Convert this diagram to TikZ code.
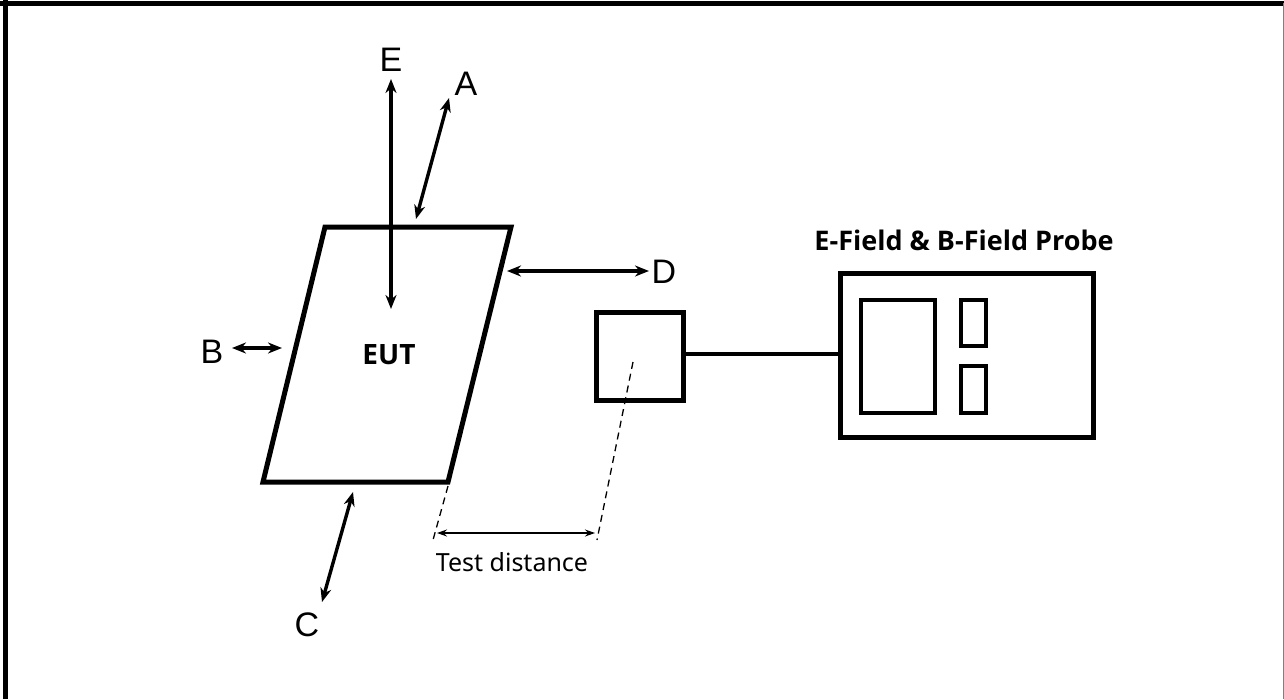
\documentclass[tikz,border=0pt]{standalone}
\usepackage{fontspec}
\setmainfont{Liberation Sans}
\newfontfamily\labelfont{Noto Sans}
\newfontfamily\headfont{Open Sans}
\usetikzlibrary{arrows.meta}
\tikzset{
  thick line/.style={line width=5pt},
  dir arrow/.style={line width=3.4pt, {Stealth[length=14pt,width=11pt]}-{Stealth[length=14pt,width=11pt]}},
  dist arrow/.style={line width=1.4pt, {Stealth[length=10pt,width=7pt]}-{Stealth[length=10pt,width=7pt]}},
  guide/.style={line width=1.3pt, dash pattern=on 7pt off 5pt},
  letter/.style={font=\fontsize{34}{36}\selectfont, inner sep=0pt}
}
\begin{document}
\begin{tikzpicture}[x=1pt,y=-1pt]
		\useasboundingbox (0,0) rectangle (1284,699);
		% frame
		\draw[line width=5pt] (5,0) -- (5,699);
		\draw[line width=5pt] (0,3) -- (1284,3);
		\draw[line width=1pt, gray] (1283,3) -- (1283,699);
		% EUT
		\coordinate (tl) at (325,227);
		\coordinate (tr) at (511,227);
		\coordinate (br) at (448,482);
		\coordinate (bl) at (263,482);
		\draw[thick line, line join=miter] (tl) -- (tr) -- (br) -- (bl) -- cycle;
		\node[font=\headfont\bfseries\fontsize{28}{30}\selectfont] (eut) at (389,355) {EUT};
		% directions
		\coordinate (e1) at (391,309);
		\coordinate (e2) at (391,79);
		\draw[dir arrow] (e1) -- (e2);
		\node[letter] (lblE) at (391,60) {E};
		\coordinate (a1) at (416,219);
		\coordinate (a2) at (449,98);
		\draw[dir arrow] (a1) -- (a2);
		\node[letter] (lblA) at (466,84) {A};
		\coordinate (b1) at (232,348);
		\coordinate (b2) at (282,348);
		\draw[dir arrow] (b1) -- (b2);
		\node[letter] (lblB) at (212,352) {B};
		\coordinate (c1) at (353,492);
		\coordinate (c2) at (322,602);
		\draw[dir arrow] (c1) -- (c2);
		\node[letter] (lblC) at (307,625) {C};
		\coordinate (d1) at (507,271);
		\coordinate (d2) at (649,271);
		\draw[dir arrow] (d1) -- (d2);
		\node[letter] (lblD) at (664,272) {D};
		% probe and meter
		\draw[thick line] (596,312) rectangle (683,400);
		\node[minimum width=83pt, minimum height=84pt] (probe) at (639.5,356) {};
		\node[draw, thick line, minimum width=253pt, minimum height=164pt] (meter) at (967,355.5) {};
		\draw[line width=4pt] (probe.east) ++(0,-2) -- (meter.west |- 0,354);
		\draw[line width=3.5pt] (861,300) rectangle (935,413);
		\draw[line width=3.5pt] (961,300) rectangle (986,346);
		\draw[line width=3.5pt] (961,366) rectangle (986,413);
		\node[font=\headfont\bfseries\fontsize{27}{29}\selectfont] (title) at (964,240) {E-Field \& B-Field Probe};
		% test distance
		\coordinate (g1) at (448,486);
		\coordinate (g2) at (433,540);
		\coordinate (g3) at (633,362);
		\coordinate (g4) at (597,540);
		\draw[guide] (g1) -- (g2);
		\draw[guide] (g3) -- (g4);
		\coordinate (t1) at (437,533);
		\coordinate (t2) at (595,533);
		\draw[dist arrow] (t1) -- (t2);
		\node[font=\labelfont\fontsize{25}{27}\selectfont] (dist) at (512,562) {Test distance};
\end{tikzpicture}
\end{document}
